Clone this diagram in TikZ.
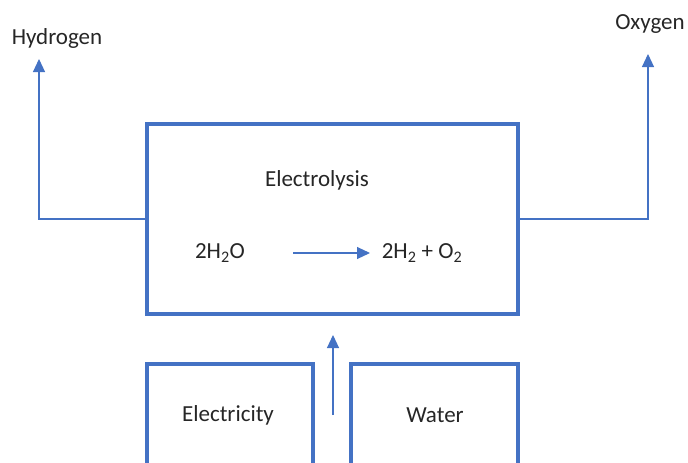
\documentclass[tikz,border=0pt]{standalone}
\usepackage{fontspec}
\setmainfont{Carlito}
\usetikzlibrary{arrows.meta}
\definecolor{oblue}{HTML}{4472C4}
\tikzset{
  box/.style={draw=oblue, line width=3.2pt, inner sep=0pt},
  conn/.style={draw=oblue, line width=1.1pt},
  arr/.style={conn, -{Triangle[width=12pt,length=13pt]}},
  lbl/.style={font=\fontsize{23}{27}\selectfont, inner sep=0pt, text=black!85}
}
\begin{document}
\begin{tikzpicture}[x=1pt,y=-1pt]
\useasboundingbox (0,0) rectangle (688,463);
\clip (0,0) rectangle (688,463);
% main box
\node[box, minimum width=371pt, minimum height=190pt] (main) at (332.5,219) {};
\node[lbl] (elec) at (317,180) {Electrolysis};
\node[lbl] (react) at (220,253) {2H\textsubscript{2}O};
\node[lbl] (prod) at (422,253) {2H\textsubscript{2} + O\textsubscript{2}};
\coordinate (a1) at (293,253);
\coordinate (a2) at (370,253);
\draw[arr] (a1) -- (a2);
% outputs
\node[lbl] (hyd) at (57,38) {Hydrogen};
\node[lbl] (oxy) at (650,24) {Oxygen};
\coordinate (htip) at (39,59);
\coordinate (otip) at (648,54);
\draw[arr] (main.west) -| (htip);
\draw[arr] (main.east) -| (otip);
% inputs
\draw[box] (147,490) -- (147,364) -- (313,364) -- (313,490);
\draw[box] (351,490) -- (351,364) -- (518,364) -- (518,490);
\node[lbl] (elc) at (228,415) {Electricity};
\node[lbl] (wat) at (435,415) {Water};
\coordinate (vb) at (333,415);
\coordinate (vt) at (333,335);
\draw[arr] (vb) -- (vt);
\end{tikzpicture}
\end{document}
